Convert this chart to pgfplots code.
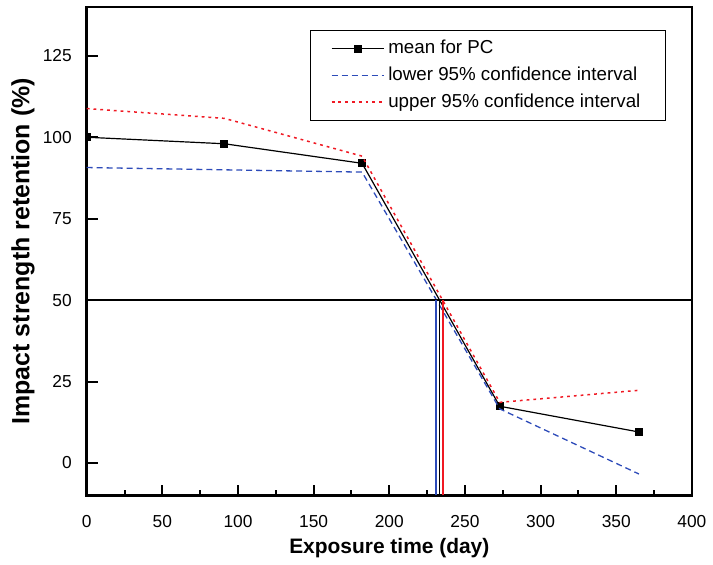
\documentclass[border=0pt]{standalone}
\usepackage{fontspec}
\setmainfont{Liberation Sans}
\usepackage{pgfplots}
\pgfplotsset{compat=1.18}
\definecolor{ciblue}{RGB}{45,75,185}
\definecolor{cired}{RGB}{240,25,35}
\begin{document}
\begin{tikzpicture}
\begin{axis}[
    name=ax,
    scale only axis,
    width=303.5pt, height=245pt,
    xmin=0, xmax=400, ymin=-10, ymax=140,
    xtick={0,50,...,400}, ytick={0,25,...,125},
    minor x tick num=1,
    tick align=inside, xtick pos=left, ytick pos=left,
    major tick length=5.5pt, minor tick length=3pt,
    axis line style={line width=1.3pt},
    every tick/.style={line width=1pt, black},
    tick label style={font=\fontsize{8.7}{10}\selectfont},
    xticklabel style={anchor=center, yshift=-13pt},
    yticklabel style={anchor=east, xshift=-4pt},
    /pgf/number format/assume math mode=true,
    xlabel={\textbf{Exposure time (day)}},
    ylabel={\textbf{Impact strength retention (\%)}},
    xlabel style={font=\fontsize{10.5}{12}\selectfont, at={(axis description cs:0.5,0)}, anchor=center, yshift=-26.5pt},
    ylabel style={font=\fontsize{12.5}{14}\selectfont, at={(axis description cs:0,0.5)}, anchor=center, yshift=32pt},
    clip marker paths=true,
    legend style={at={(0.957,0.953)}, anchor=north east, draw=black, line width=0.5pt,
        font=\fontsize{9.4}{11}\selectfont, row sep=1pt, inner xsep=10.5pt, inner ysep=3pt},
    legend cell align=left,
    legend image code/.code={\draw[mark repeat=2, mark phase=2, #1] plot coordinates {(0pt,0pt) (13pt,0pt) (26pt,0pt)};},
]
\addplot[black, line width=0.6pt, mark=square*, mark size=1.75pt] coordinates {
    (0,100) (91,98) (182,92) (273,17.4) (365,9.5)
};
\addlegendentry{mean for PC}
\addplot[ciblue, line width=0.65pt, dash pattern=on 3pt off 2pt] coordinates {
    (0,90.7) (182,89.3) (273,16.6) (365,-3.4)
};
\addlegendentry{lower 95\% confidence interval}
\addplot[cired, line width=0.75pt, dash pattern=on 1.4pt off 2pt] coordinates {
    (0,108.8) (91,105.8) (182,94.2) (273,18.6) (365,22.3)
};
\addlegendentry{upper 95\% confidence interval}
\addplot[black, line width=1pt, forget plot] coordinates {(0,50) (400,50)};
\addplot[ciblue, line width=0.75pt, forget plot] coordinates {(231.0,-10) (231.0,50)};
\addplot[black, line width=0.75pt, forget plot] coordinates {(233.3,-10) (233.3,50)};
\addplot[cired, line width=0.75pt, forget plot] coordinates {(235.4,-10) (235.4,50)};
\end{axis}
\path ([yshift=3.5pt]ax.north) ([yshift=-34.5pt]ax.south) ([xshift=-43.5pt]ax.west) ([xshift=9.5pt]ax.east);
\end{tikzpicture}
\end{document}
